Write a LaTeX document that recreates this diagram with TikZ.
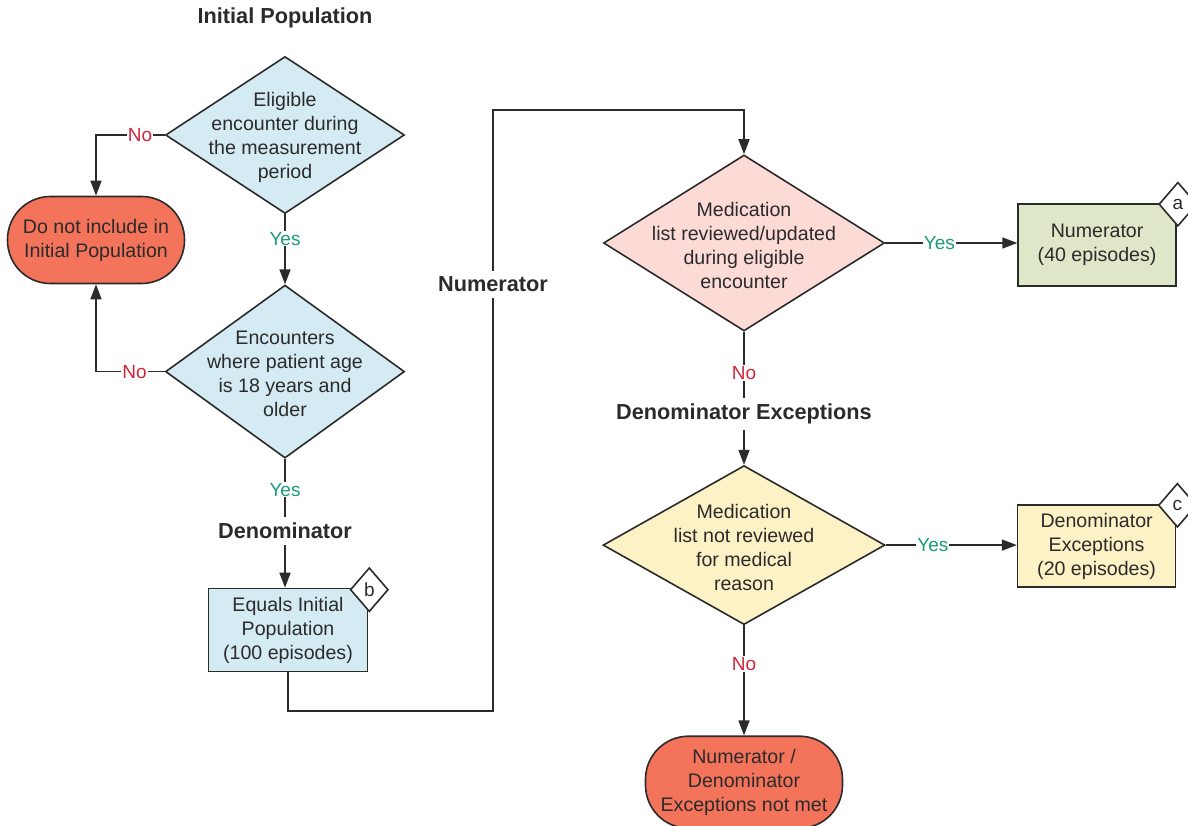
\documentclass[tikz,border=0pt]{standalone}
\usepackage{fontspec}
\setmainfont{Liberation Sans}
\usepackage{xcolor}
\definecolor{ink}{HTML}{2B2B2B}
\definecolor{skyfill}{HTML}{D5EBF3}
\definecolor{redfill}{HTML}{F4735B}
\definecolor{pinkfill}{HTML}{FCDAD5}
\definecolor{greenfill}{HTML}{DEE8C8}
\definecolor{yellowfill}{HTML}{FDF2C5}
\definecolor{nored}{HTML}{D0263A}
\definecolor{yesgreen}{HTML}{1B9B7A}
\usepackage{tikz}
\usetikzlibrary{shapes.geometric, positioning, arrows.meta}

\tikzset{
  decision/.style={diamond, draw=ink, line width=1.6pt, inner sep=0pt, minimum width=239pt, minimum height=157pt},
  dtext/.style={align=center, text=ink, yshift=-2pt, font=\fontsize{19.6}{24}\selectfont},
  terminal/.style={rectangle, rounded corners=43pt, draw=ink, line width=1.6pt, fill=redfill, minimum width=177pt, minimum height=87pt, align=center, text=ink},
  outcome/.style={rectangle, draw=ink, line width=1.6pt, minimum width=158pt, minimum height=82pt, align=center, text=ink},
  badge/.style={diamond, draw=ink, fill=white, line width=1.6pt, inner sep=0pt, minimum width=38pt, minimum height=44pt, text=ink, font=\fontsize{19}{20}\selectfont},
  heading/.style={fill=white, inner xsep=4pt, inner ysep=6pt, text=ink, font=\bfseries\fontsize{21.7}{26}\selectfont},
  yes/.style={fill=white, inner sep=1pt, text=yesgreen, font=\fontsize{19}{22}\selectfont},
  no/.style={fill=white, inner sep=1pt, text=nored, font=\fontsize{19}{22}\selectfont},
  flow/.style={draw=ink, line width=1.6pt, -{Triangle[length=15pt,width=11pt]}}
}

\begin{document}
\begin{tikzpicture}[x=1pt, y=-1pt, font=\fontsize{19.6}{24}\selectfont]
  \useasboundingbox (0,0) rectangle (1188,826);

  % initial population
  \node[heading] (ip) at (285,18) {Initial Population};
  \node[decision, fill=skyfill, label={[dtext]center:{Eligible\\encounter during\\the measurement\\period}}] (d1) at (285,135) {};
  \node[decision, fill=skyfill, minimum height=173pt, below=70pt of d1, label={[dtext]center:{Encounters\\where patient age\\is 18 years and\\older}}] (d2) {};
  \node[terminal] (t1) at (96,240) {Do not include in\\Initial Population};

  % denominator
  \node[outcome, fill=skyfill, minimum width=159pt, minimum height=83pt] (eq) at (288,630) {Equals Initial\\Population\\(100 episodes)};
  \node[badge] (bb) at ([shift={(1,2)}]eq.north east) {b};

  % numerator and exceptions
  \node[decision, fill=pinkfill, minimum width=281pt, minimum height=176pt, label={[dtext]center:{Medication\\list reviewed/updated\\during eligible\\encounter}}] (d3) at (744,243) {};
  \node[outcome, fill=greenfill, right=132pt of d3, yshift=-2pt] (num) {Numerator\\(40 episodes)};
  \node[badge] (ba) at ([shift={(1,1)}]num.north east) {a};

  \node[decision, fill=yellowfill, minimum width=282pt, minimum height=159pt, below=133pt of d3, label={[dtext]center:{Medication\\list not reviewed\\for medical\\reason}}] (d4) {};
  \node[outcome, fill=yellowfill, right=131pt of d4, yshift=-1pt] (dex) {Denominator\\Exceptions\\(20 episodes)};
  \node[badge] (bc) at ([shift={(1,1)}]dex.north east) {c};

  \node[terminal, minimum width=197pt, minimum height=92pt, below=110pt of d4] (t2) {Numerator /\\Denominator\\Exceptions not met};

  \coordinate (lo) at (493,711);
  \coordinate (hi) at (493,110);

  % connectors
  \draw[flow] (d1.west) -| node[no, pos=0.18] {No} (t1.north);
  \draw[flow] (d2.west) -| node[no, pos=0.22] {No} (t1.south);
  \draw[flow] (d1.south) -- node[yes, pos=0.35] {Yes} (d2.north);
  \draw[flow] (d2.south) -- node[yes, pos=0.24] {Yes} node[heading, pos=0.56] {Denominator} (d2.south |- eq.north);
  \draw[flow] (eq.south) |- (lo) -- node[heading, pos=0.71] {Numerator} (hi) -| (d3.north);
  \draw[flow] (d3.east) -- node[yes, pos=0.41] {Yes} (d3.east -| num.west);
  \draw[flow] (d3.south) -- node[no, pos=0.31] {No} node[heading, pos=0.62] {Denominator Exceptions} (d4.north);
  \draw[flow] (d4.east) -- node[yes, pos=0.36] {Yes} (d4.east -| dex.west);
  \draw[flow] (d4.south) -- node[no, pos=0.35] {No} (t2.north);
\end{tikzpicture}
\end{document}
